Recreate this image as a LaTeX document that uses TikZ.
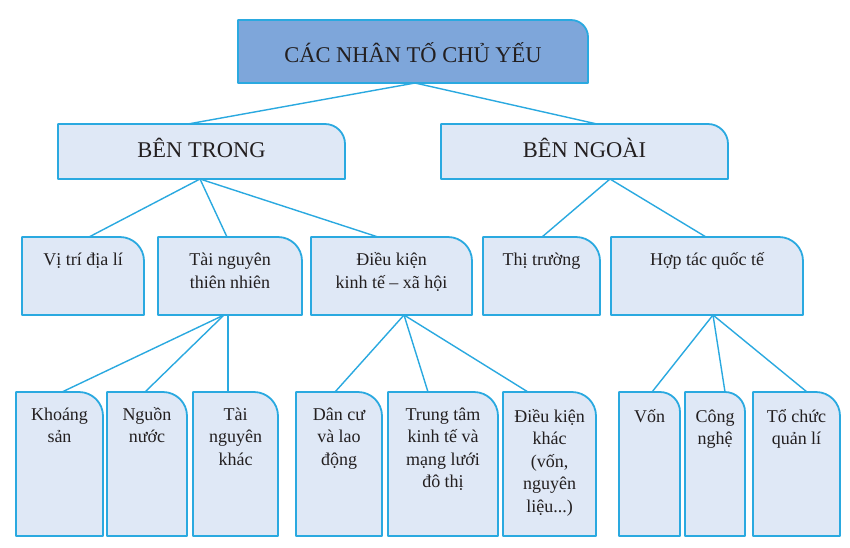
\documentclass[tikz,border=0pt]{standalone}
\usepackage{fontspec}
\setmainfont{Liberation Serif}
\definecolor{bord}{HTML}{2AA9E0}
\definecolor{darkfill}{HTML}{7EA6DA}
\definecolor{lightfill}{HTML}{DFE8F6}
\definecolor{ink}{HTML}{231F20}
\tikzset{
  boxline/.style={draw=bord, line width=1.8pt, line join=round},
  conn/.style={draw=bord, line width=1.4pt},
  bigtxt/.style={anchor=base, inner sep=0pt, text=ink, align=center, font=\fontsize{22.5}{27}\selectfont},
  smalltxt/.style={anchor=base, inner sep=0pt, text=ink, align=center, font=\fontsize{18}{22.5}\selectfont},
}
\newcommand\mkbox[7]{%
  \path[boxline, fill=#7] (#2,#5) -- (#2,#3) -- ({#4-#6},#3) .. controls ({#4-0.448*#6},#3) and (#4,{#3+0.448*#6}) .. (#4,{#3+#6}) -- (#4,#5) -- cycle;
  \node[inner sep=0pt, outer sep=0pt, minimum width={(#4-#2)*1pt}, minimum height={(#5-#3)*1pt}] (#1) at ({(#2+#4)/2},{(#3+#5)/2}) {};
}
\begin{document}
\begin{tikzpicture}[x=1pt,y=-1pt]
\useasboundingbox[fill=white] (0,0) rectangle (850,547);
% boxes
\mkbox{top}{238}{20}{588}{83}{17}{darkfill}
\mkbox{bt}{58}{124}{345}{179}{20}{lightfill}
\mkbox{bn}{441}{124}{728}{179}{20}{lightfill}
\mkbox{vt}{22}{237}{144}{315}{24}{lightfill}
\mkbox{tn}{158}{237}{302}{315}{24}{lightfill}
\mkbox{dk}{311}{237}{472}{315}{24}{lightfill}
\mkbox{tt}{483}{237}{600}{315}{24}{lightfill}
\mkbox{hq}{611}{237}{803}{315}{24}{lightfill}
\mkbox{ks}{16}{392}{103}{536}{24}{lightfill}
\mkbox{nn}{107}{392}{187}{536}{24}{lightfill}
\mkbox{tk}{193}{392}{278}{536}{24}{lightfill}
\mkbox{dc}{296}{392}{382}{536}{24}{lightfill}
\mkbox{tm}{388}{392}{498}{536}{24}{lightfill}
\mkbox{dkk}{503}{392}{596}{536}{24}{lightfill}
\mkbox{von}{619}{392}{680}{536}{20}{lightfill}
\mkbox{cn}{685}{392}{745}{536}{20}{lightfill}
\mkbox{tc}{753}{392}{840}{536}{24}{lightfill}
% texts (anchor base = baseline of last line)
\node[bigtxt] (top-t) at ([yshift=-42pt]top.north) {CÁC NHÂN TỐ CHỦ YẾU};
\node[bigtxt] (bt-t) at ([yshift=-33pt]bt.north) {BÊN TRONG};
\node[bigtxt] (bn-t) at ([yshift=-33pt]bn.north) {BÊN NGOÀI};
\node[smalltxt] (vt-t) at ([yshift=-28.5pt]vt.north) {Vị trí địa lí};
\node[smalltxt] (tn-t) at ([yshift=-51pt]tn.north) {Tài nguyên\\thiên nhiên};
\node[smalltxt] (dk-t) at ([yshift=-51pt]dk.north) {Điều kiện\\kinh tế – xã hội};
\node[smalltxt] (tt-t) at ([yshift=-28.5pt]tt.north) {Thị trường};
\node[smalltxt] (hq-t) at ([yshift=-28.5pt]hq.north) {Hợp tác quốc tế};
\node[smalltxt] (ks-t) at ([yshift=-50.5pt]ks.north) {Khoáng\\sản};
\node[smalltxt] (nn-t) at ([yshift=-50.5pt]nn.north) {Nguồn\\nước};
\node[smalltxt] (tk-t) at ([yshift=-73pt]tk.north) {Tài\\nguyên\\khác};
\node[smalltxt] (dc-t) at ([yshift=-73pt]dc.north) {Dân cư\\và lao\\động};
\node[smalltxt] (tm-t) at ([yshift=-95.5pt]tm.north) {Trung tâm\\kinh tế và\\mạng lưới\\đô thị};
\node[smalltxt] (dkk-t) at ([yshift=-120pt]dkk.north) {Điều kiện\\khác\\(vốn,\\nguyên\\liệu...)};
\node[smalltxt] (von-t) at ([yshift=-30pt]von.north) {Vốn};
\node[smalltxt] (cn-t) at ([yshift=-52.5pt]cn.north) {Công\\nghệ};
\node[smalltxt] (tc-t) at ([yshift=-52.5pt]tc.north) {Tổ chức\\quản lí};
% connectors
\draw[conn] ([xshift=2pt]top.south) -- ([xshift=-13.5pt]bt.north);
\draw[conn] ([xshift=2pt]top.south) -- ([xshift=12.5pt]bn.north);
\draw[conn] ([xshift=-1.5pt]bt.south) -- ([xshift=6pt]vt.north);
\draw[conn] ([xshift=-1.5pt]bt.south) -- ([xshift=-3pt]tn.north);
\draw[conn] ([xshift=-1.5pt]bt.south) -- ([xshift=-13.5pt]dk.north);
\draw[conn] ([xshift=25.5pt]bn.south) -- ([xshift=0.5pt]tt.north);
\draw[conn] ([xshift=25.5pt]bn.south) -- ([xshift=-1pt]hq.north);
\draw[conn] ([xshift=-6pt]tn.south) -- ([xshift=2.5pt]ks.north);
\draw[conn] ([xshift=-6pt]tn.south) -- ([xshift=-2pt]nn.north);
\draw[conn] ([xshift=-2pt]tn.south) -- ([xshift=-7.5pt]tk.north);
\draw[conn] ([xshift=12.5pt]dk.south) -- ([xshift=-4pt]dc.north);
\draw[conn] ([xshift=12.5pt]dk.south) -- ([xshift=-15pt]tm.north);
\draw[conn] ([xshift=12.5pt]dk.south) -- ([xshift=-21.5pt]dkk.north);
\draw[conn] ([xshift=6pt]hq.south) -- ([xshift=2.5pt]von.north);
\draw[conn] ([xshift=6pt]hq.south) -- ([xshift=10pt]cn.north);
\draw[conn] ([xshift=6pt]hq.south) -- ([xshift=10.5pt]tc.north);
\end{tikzpicture}
\end{document}
